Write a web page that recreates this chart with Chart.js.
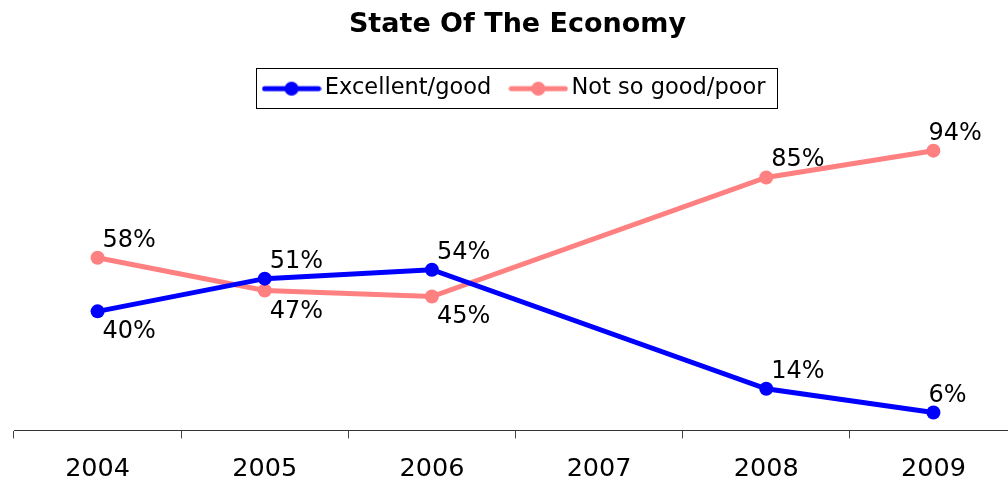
<!DOCTYPE html>
<html>
<head>
<meta charset="utf-8">
<script src="https://cdn.jsdelivr.net/npm/chart.js@4/dist/chart.umd.min.js"></script>
<style>
  html, body { margin: 0; padding: 0; overflow: hidden; background: #fff; }
  #wrap { width: 1024px; height: 483px; }
</style>
</head>
<body>
<div id="wrap"><canvas id="economy" width="1024" height="483"></canvas></div>
<script>
  const years = ['2004', '2005', '2006', '2007', '2008', '2009'];
  const goodPct = [40, 51, 54, null, 14, 6];
  const poorPct = [58, 47, 45, null, 85, 94];
  // which side of the point each value label sits on
  const goodLabelAbove = [false, true, true, false, true, true];
  const poorLabelAbove = [true, false, false, false, true, true];

  const FONT = "Verdana, 'DejaVu Sans', sans-serif";
  const BLUE = '#0000ff';
  const PINK = '#ff8080';

  // legend swatch: short line with a dot in the middle
  function legendMarker(color) {
    const c = document.createElement('canvas');
    c.width = 60; c.height = 16;
    const g = c.getContext('2d');
    g.strokeStyle = color; g.lineWidth = 5; g.lineCap = 'round';
    g.beginPath(); g.moveTo(3, 8); g.lineTo(57, 8); g.stroke();
    g.fillStyle = color;
    g.beginPath(); g.arc(30, 8, 7, 0, Math.PI * 2); g.fill();
    return c;
  }
  const markers = [legendMarker(BLUE), legendMarker(PINK)];

  const valueLabels = {
    id: 'valueLabels',
    afterDatasetsDraw(chart) {
      const ctx = chart.ctx;
      const sides = [goodLabelAbove, poorLabelAbove];
      ctx.save();
      ctx.font = '24px ' + FONT;
      ctx.fillStyle = '#000';
      ctx.textAlign = 'left';
      ctx.textBaseline = 'alphabetic';
      chart.data.datasets.forEach((ds, di) => {
        chart.getDatasetMeta(di).data.forEach((pt, i) => {
          const v = ds.data[i];
          if (v == null) return;
          const dx = i === ds.data.length - 1 ? -5 : 5;
          const y = sides[di][i] ? pt.y - 11 : pt.y + 27;
          ctx.fillText(v + '%', pt.x + dx, y);
        });
      });
      ctx.restore();
    }
  };

  const legendFrame = {
    id: 'legendFrame',
    afterDraw(chart) {
      const boxes = chart.legend.legendHitBoxes;
      if (!boxes || !boxes.length) return;
      const left = Math.min(...boxes.map(b => b.left)) - 14;
      const right = Math.max(...boxes.map(b => b.left + b.width)) + 11;
      const top = Math.min(...boxes.map(b => b.top)) - 9;
      const bottom = Math.max(...boxes.map(b => b.top + b.height)) + 8;
      const ctx = chart.ctx;
      ctx.save();
      ctx.strokeStyle = '#000';
      ctx.lineWidth = 1;
      ctx.strokeRect(Math.round(left) + 0.5, Math.round(top) + 0.5,
        Math.round(right - left), Math.round(bottom - top));
      ctx.restore();
    }
  };

  new Chart(document.getElementById('economy'), {
    type: 'line',
    data: {
      labels: years,
      datasets: [
        {
          label: 'Excellent/good',
          data: goodPct,
          borderColor: BLUE,
          backgroundColor: BLUE,
          pointBackgroundColor: BLUE,
          borderWidth: 5,
          pointRadius: 7,
          pointBorderWidth: 0,
          tension: 0,
        },
        {
          label: 'Not so good/poor',
          data: poorPct,
          borderColor: PINK,
          backgroundColor: PINK,
          pointBackgroundColor: PINK,
          borderWidth: 5,
          pointRadius: 7,
          pointBorderWidth: 0,
          tension: 0,
        },
      ],
    },
    options: {
      responsive: false,
      animation: false,
      spanGaps: true,
      layout: { padding: { left: 14, right: 3, top: 0, bottom: -18 } },
      plugins: {
        title: {
          display: true,
          text: 'State Of The Economy',
          color: '#000',
          font: { family: FONT, size: 27, weight: 'bold' },
          padding: { top: 9, bottom: 11 },
        },
        legend: {
          display: true,
          labels: {
            color: '#000',
            font: { family: FONT, size: 22.5 },
            usePointStyle: true,
            pointStyleWidth: 44,
            padding: 25,
            generateLabels(chart) {
              const items = Chart.defaults.plugins.legend.labels.generateLabels(chart);
              items.forEach(it => { it.pointStyle = markers[it.datasetIndex]; });
              return items;
            },
          },
        },
        tooltip: { enabled: false },
      },
      scales: {
        x: {
          offset: true,
          grid: {
            offset: true,
            drawOnChartArea: false,
            drawTicks: true,
            tickLength: 8,
            color: '#444',
          },
          border: { display: true, color: '#333', width: 1 },
          ticks: {
            color: '#000',
            font: { family: FONT, size: 25.5 },
            padding: 16,
            maxRotation: 0,
          },
        },
        y: {
          display: false,
          min: 0,
          max: 107.7,
        },
      },
    },
    plugins: [valueLabels, legendFrame],
  });
</script>
</body>
</html>
